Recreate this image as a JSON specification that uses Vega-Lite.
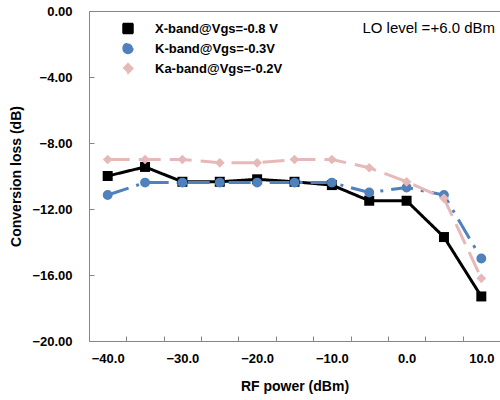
{
  "$schema": "https://vega.github.io/schema/vega-lite/v6.json",
  "width": 411,
  "height": 330,
  "autosize": "none",
  "padding": {"left": 89, "top": 11, "right": 0, "bottom": 59},
  "background": "white",
  "config": {
    "view": {"stroke": null},
    "font": "Liberation Sans",
    "axis": {"grid": false, "domainColor": "#868686", "tickColor": "#868686", "labelColor": "black", "titleColor": "black", "labelFont": "Liberation Sans", "titleFont": "Liberation Sans"}
  },
  "title": {"text": "LO level =+6.0 dBm", "anchor": "end", "frame": "group", "offset": -31, "fontSize": 15, "fontWeight": "normal", "font": "Liberation Sans", "color": "black", "dx": -5},
  "data": {"values": [
    {"series": "X-band@Vgs=-0.8 V", "rf": -40, "loss": -10.0},
    {"series": "X-band@Vgs=-0.8 V", "rf": -35, "loss": -9.45},
    {"series": "X-band@Vgs=-0.8 V", "rf": -30, "loss": -10.35},
    {"series": "X-band@Vgs=-0.8 V", "rf": -25, "loss": -10.35},
    {"series": "X-band@Vgs=-0.8 V", "rf": -20, "loss": -10.2},
    {"series": "X-band@Vgs=-0.8 V", "rf": -15, "loss": -10.35},
    {"series": "X-band@Vgs=-0.8 V", "rf": -10, "loss": -10.55},
    {"series": "X-band@Vgs=-0.8 V", "rf": -5, "loss": -11.5},
    {"series": "X-band@Vgs=-0.8 V", "rf": 0, "loss": -11.5},
    {"series": "X-band@Vgs=-0.8 V", "rf": 5, "loss": -13.7},
    {"series": "X-band@Vgs=-0.8 V", "rf": 10, "loss": -17.3},
    {"series": "K-band@Vgs=-0.3V", "rf": -40, "loss": -11.15},
    {"series": "K-band@Vgs=-0.3V", "rf": -35, "loss": -10.4},
    {"series": "K-band@Vgs=-0.3V", "rf": -30, "loss": -10.4},
    {"series": "K-band@Vgs=-0.3V", "rf": -25, "loss": -10.4},
    {"series": "K-band@Vgs=-0.3V", "rf": -20, "loss": -10.4},
    {"series": "K-band@Vgs=-0.3V", "rf": -15, "loss": -10.4},
    {"series": "K-band@Vgs=-0.3V", "rf": -10, "loss": -10.4},
    {"series": "K-band@Vgs=-0.3V", "rf": -5, "loss": -11.0},
    {"series": "K-band@Vgs=-0.3V", "rf": 0, "loss": -10.7},
    {"series": "K-band@Vgs=-0.3V", "rf": 5, "loss": -11.15},
    {"series": "K-band@Vgs=-0.3V", "rf": 10, "loss": -15.0},
    {"series": "Ka-band@Vgs=-0.2V", "rf": -40, "loss": -9.0},
    {"series": "Ka-band@Vgs=-0.2V", "rf": -35, "loss": -9.0},
    {"series": "Ka-band@Vgs=-0.2V", "rf": -30, "loss": -9.0},
    {"series": "Ka-band@Vgs=-0.2V", "rf": -25, "loss": -9.2},
    {"series": "Ka-band@Vgs=-0.2V", "rf": -20, "loss": -9.2},
    {"series": "Ka-band@Vgs=-0.2V", "rf": -15, "loss": -9.0},
    {"series": "Ka-band@Vgs=-0.2V", "rf": -10, "loss": -9.0},
    {"series": "Ka-band@Vgs=-0.2V", "rf": -5, "loss": -9.5},
    {"series": "Ka-band@Vgs=-0.2V", "rf": 0, "loss": -10.35},
    {"series": "Ka-band@Vgs=-0.2V", "rf": 5, "loss": -11.35},
    {"series": "Ka-band@Vgs=-0.2V", "rf": 10, "loss": -16.2}
  ]},
  "resolve": {"axis": {"x": "independent"}},
  "layer": [
    {
      "mark": {"type": "line", "strokeWidth": 3, "clip": true},
      "encoding": {
        "x": {"field": "rf", "type": "quantitative", "scale": {"domain": [-42.5, 12.5], "nice": false, "zero": false},
          "axis": {"values": [-40, -35, -30, -25, -20, -15, -10, -5, 0, 5, 10], "tickOffset": 18.7, "labelOffset": -18.7, "labelExpr": "datum.value % 10 == 0 ? format(datum.value, '.1f') : ''", "labelFlush": false, "labelOverlap": false, "tickSize": -5, "labelPadding": 16, "labelFontSize": 13, "labelFontWeight": "bold", "title": "RF power (dBm)", "titleFontSize": 14, "titleFontWeight": "bold", "titlePadding": 14}},
        "y": {"field": "loss", "type": "quantitative", "scale": {"domain": [-20, 0], "nice": false, "zero": false},
          "axis": {"values": [-20, -16, -12, -8, -4, 0], "format": ".2f", "tickSize": -5, "labelPadding": 22, "labelFontSize": 13, "labelFontWeight": "bold", "labelFlush": false, "title": "Conversion loss (dB)", "titleFontSize": 14, "titleFontWeight": "bold", "titlePadding": 8}},
        "color": {"field": "series", "type": "nominal", "sort": null,
          "scale": {"domain": ["X-band@Vgs=-0.8 V", "K-band@Vgs=-0.3V", "Ka-band@Vgs=-0.2V"], "range": ["#000000", "#4F81BD", "#E6B9B8"]},
          "legend": {"orient": "none", "legendX": 32.5, "legendY": 11, "title": null, "symbolSize": 110, "symbolOpacity": 1, "labelOffset": 20.5, "labelFontSize": 13, "labelFontWeight": "bold", "labelColor": "black", "labelFont": "Liberation Sans", "rowPadding": 3}},
        "strokeDash": {"field": "series", "type": "nominal", "legend": null,
          "scale": {"domain": ["X-band@Vgs=-0.8 V", "K-band@Vgs=-0.3V", "Ka-band@Vgs=-0.2V"], "range": [[1, 0], [22, 8, 3, 8], [22, 9]]}}
      }
    },
    {
      "mark": {"type": "point", "filled": true, "opacity": 1, "strokeWidth": 0},
      "encoding": {
        "x": {"field": "rf", "type": "quantitative", "scale": {"domain": [-42.5, 12.5], "nice": false, "zero": false},
          "axis": {"orient": "top", "labels": false, "ticks": false, "title": null}},
        "y": {"field": "loss", "type": "quantitative"},
        "color": {"field": "series", "type": "nominal", "sort": null},
        "shape": {"field": "series", "type": "nominal", "legend": null,
          "scale": {"domain": ["X-band@Vgs=-0.8 V", "K-band@Vgs=-0.3V", "Ka-band@Vgs=-0.2V"], "range": ["square", "circle", "diamond"]}},
        "size": {"field": "series", "type": "nominal", "legend": null,
          "scale": {"domain": ["X-band@Vgs=-0.8 V", "K-band@Vgs=-0.3V", "Ka-band@Vgs=-0.2V"], "range": [100, 95, 75]}}
      }
    }
  ]
}
